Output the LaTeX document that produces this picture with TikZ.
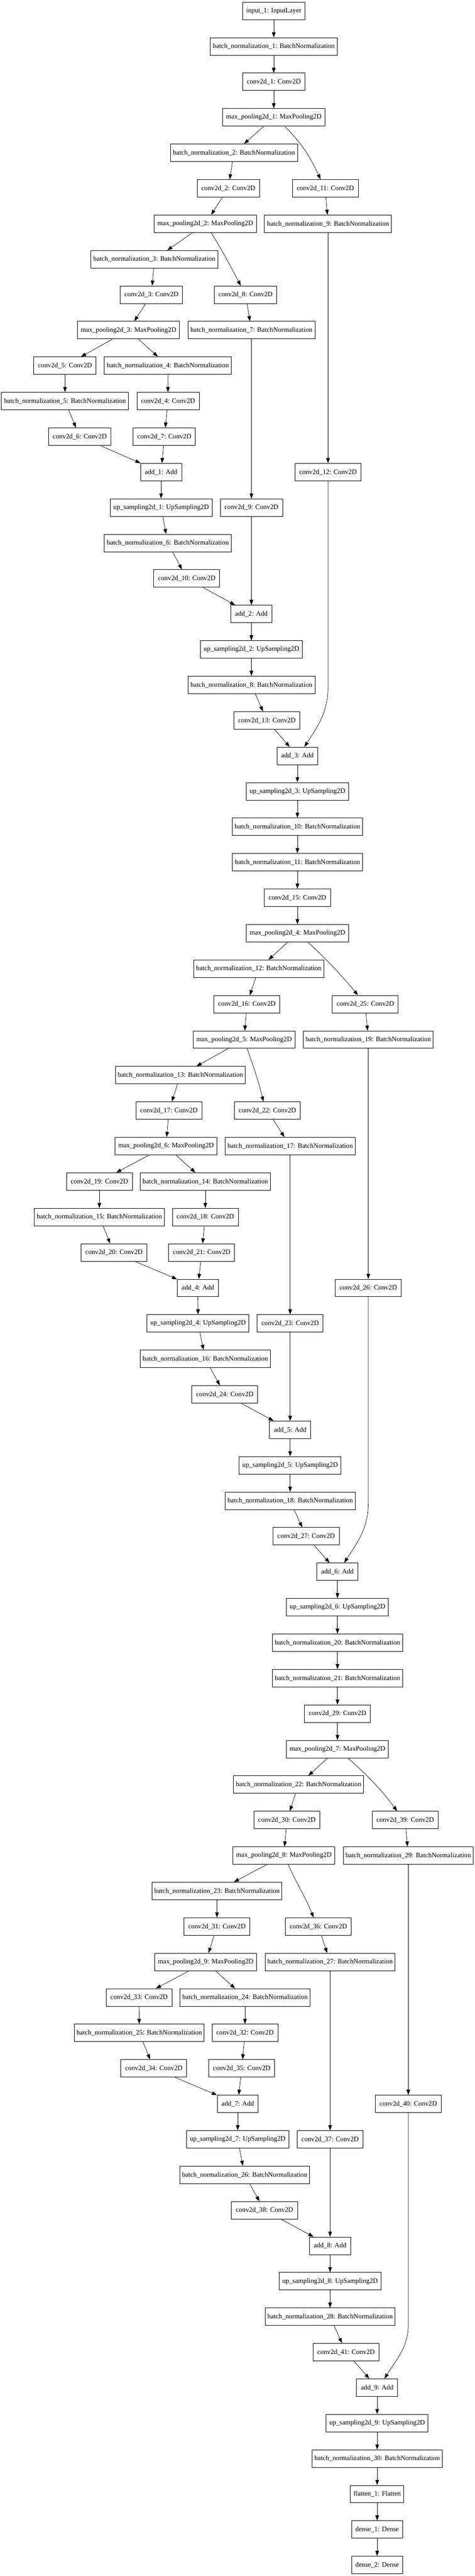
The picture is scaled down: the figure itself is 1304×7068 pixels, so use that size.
\documentclass[tikz,border=0pt]{standalone}
\usepackage{fontspec}
\setmainfont{Liberation Serif}
\usetikzlibrary{arrows.meta,calc}
\newcommand\ry[1]{-30-97.33*#1}
\tikzset{
  box/.style={draw, line width=1.3pt, rectangle, minimum height=48pt, inner xsep=0pt, inner ysep=0pt, font=\fontsize{18.67}{22}\selectfont},
  wIn/.style={box, minimum width=170pt},
  wBN/.style={box, minimum width=349pt},
  wBNN/.style={box, minimum width=357pt},
  wC/.style={box, minimum width=171pt},
  wCC/.style={box, minimum width=181pt},
  wMP/.style={box, minimum width=280pt},
  wUP/.style={box, minimum width=280pt},
  wAdd/.style={box, minimum width=113pt},
  wFl/.style={box, minimum width=147pt},
  wDn/.style={box, minimum width=140pt},
  arr/.style={line width=1pt, -{Triangle[length=14pt,width=10pt]}}
}
\begin{document}
\begin{tikzpicture}[x=1pt,y=1pt]
\fill[white] (0,0) rectangle (1304,-7068);
\useasboundingbox (0,0) rectangle (1304,-7068);
% ---------- section 1 ----------
\node[wIn] (in1) at (752,\ry{0}) {input\_1: InputLayer};
\node[wBN] (bn1) at (752,\ry{1}) {batch\_normalization\_1: BatchNormalization};
\node[wC] (c1) at (752,\ry{2}) {conv2d\_1: Conv2D};
\node[wMP] (mp1) at (752,\ry{3}) {max\_pooling2d\_1: MaxPooling2D};
\node[wBN] (bn2) at (642.5,\ry{4}) {batch\_normalization\_2: BatchNormalization};
\node[wC] (c2) at (627,\ry{5}) {conv2d\_2: Conv2D};
\node[wCC] (c11) at (893.5,\ry{5}) {conv2d\_11: Conv2D};
\node[wMP] (mp2) at (564,\ry{6}) {max\_pooling2d\_2: MaxPooling2D};
\node[wBN] (bn9) at (901,\ry{6}) {batch\_normalization\_9: BatchNormalization};
\node[wBN] (bn3) at (424,\ry{7}) {batch\_normalization\_3: BatchNormalization};
\node[wC] (c3) at (416,\ry{8}) {conv2d\_3: Conv2D};
\node[wC] (c8) at (674.5,\ry{8}) {conv2d\_8: Conv2D};
\node[wMP] (mp3) at (353,\ry{9}) {max\_pooling2d\_3: MaxPooling2D};
\node[wBN] (bn7) at (690.6,\ry{9}) {batch\_normalization\_7: BatchNormalization};
\node[wC] (c5) at (178.5,\ry{10}) {conv2d\_5: Conv2D};
\node[wBN] (bn4) at (461,\ry{10}) {batch\_normalization\_4: BatchNormalization};
\node[wBN] (bn5) at (178.5,\ry{11}) {batch\_normalization\_5: BatchNormalization};
\node[wC] (c4) at (461.5,\ry{11}) {conv2d\_4: Conv2D};
\node[wC] (c6) at (219,\ry{12}) {conv2d\_6: Conv2D};
\node[wC] (c7) at (451.5,\ry{12}) {conv2d\_7: Conv2D};
\node[wAdd] (add1) at (442.5,\ry{13}) {add\_1: Add};
\node[wCC] (c12) at (901,\ry{13}) {conv2d\_12: Conv2D};
\node[wUP] (up1) at (442.5,\ry{14}) {up\_sampling2d\_1: UpSampling2D};
\node[wC] (c9) at (690.6,\ry{14}) {conv2d\_9: Conv2D};
\node[wBN] (bn6) at (461,\ry{15}) {batch\_normalization\_6: BatchNormalization};
\node[wCC] (c10) at (513,\ry{16}) {conv2d\_10: Conv2D};
\node[wAdd] (add2) at (690.6,\ry{17}) {add\_2: Add};
\node[wUP] (up2) at (690.6,\ry{18}) {up\_sampling2d\_2: UpSampling2D};
\node[wBN] (bn8) at (690.6,\ry{19}) {batch\_normalization\_8: BatchNormalization};
\node[wCC] (c13) at (733,\ry{20}) {conv2d\_13: Conv2D};
\node[wAdd] (add3) at (817,\ry{21}) {add\_3: Add};
\node[wUP] (up3) at (817,\ry{22}) {up\_sampling2d\_3: UpSampling2D};
\node[wBNN] (bn10) at (817,\ry{23}) {batch\_normalization\_10: BatchNormalization};
\node[wBNN] (bn11) at (817,\ry{24}) {batch\_normalization\_11: BatchNormalization};
\node[wCC] (c15) at (817,\ry{25}) {conv2d\_15: Conv2D};
\node[wMP] (mp4) at (817,\ry{26}) {max\_pooling2d\_4: MaxPooling2D};
% ---------- section 2 ----------
\node[wBNN] (bn12) at (710.7,\ry{27}) {batch\_normalization\_12: BatchNormalization};
\node[wCC] (c16) at (678,\ry{28}) {conv2d\_16: Conv2D};
\node[wCC] (c25) at (1003.4,\ry{28}) {conv2d\_25: Conv2D};
\node[wMP] (mp5) at (670.6,\ry{29}) {max\_pooling2d\_5: MaxPooling2D};
\node[wBNN] (bn19) at (1011.6,\ry{29}) {batch\_normalization\_19: BatchNormalization};
\node[wBNN] (bn13) at (495.6,\ry{30}) {batch\_normalization\_13: BatchNormalization};
\node[wCC] (c17) at (464,\ry{31}) {conv2d\_17: Conv2D};
\node[wCC] (c22) at (734.7,\ry{31}) {conv2d\_22: Conv2D};
\node[wMP] (mp6) at (456,\ry{32}) {max\_pooling2d\_6: MaxPooling2D};
\node[wBNN] (bn17) at (797,\ry{32}) {batch\_normalization\_17: BatchNormalization};
\node[wCC] (c19) at (273,\ry{33}) {conv2d\_19: Conv2D};
\node[wBNN] (bn14) at (564,\ry{33}) {batch\_normalization\_14: BatchNormalization};
\node[wBNN] (bn15) at (273,\ry{34}) {batch\_normalization\_15: BatchNormalization};
\node[wCC] (c18) at (564,\ry{34}) {conv2d\_18: Conv2D};
\node[wCC] (c20) at (313,\ry{35}) {conv2d\_20: Conv2D};
\node[wCC] (c21) at (554,\ry{35}) {conv2d\_21: Conv2D};
\node[wAdd] (add4) at (543.5,\ry{36}) {add\_4: Add};
\node[wCC] (c26) at (1011.6,\ry{36}) {conv2d\_26: Conv2D};
\node[wUP] (up4) at (544,\ry{37}) {up\_sampling2d\_4: UpSampling2D};
\node[wCC] (c23) at (797,\ry{37}) {conv2d\_23: Conv2D};
\node[wBNN] (bn16) at (564,\ry{38}) {batch\_normalization\_16: BatchNormalization};
\node[wCC] (c24) at (617.5,\ry{39}) {conv2d\_24: Conv2D};
\node[wAdd] (add5) at (797,\ry{40}) {add\_5: Add};
\node[wUP] (up5) at (797,\ry{41}) {up\_sampling2d\_5: UpSampling2D};
\node[wBNN] (bn18) at (797,\ry{42}) {batch\_normalization\_18: BatchNormalization};
\node[wCC] (c27) at (841,\ry{43}) {conv2d\_27: Conv2D};
\node[wAdd] (add6) at (927,\ry{44}) {add\_6: Add};
\node[wUP] (up6) at (927,\ry{45}) {up\_sampling2d\_6: UpSampling2D};
\node[wBNN] (bn20) at (927,\ry{46}) {batch\_normalization\_20: BatchNormalization};
\node[wBNN] (bn21) at (927,\ry{47}) {batch\_normalization\_21: BatchNormalization};
\node[wCC] (c29) at (927,\ry{48}) {conv2d\_29: Conv2D};
\node[wMP] (mp7) at (927,\ry{49}) {max\_pooling2d\_7: MaxPooling2D};
% ---------- section 3 ----------
\node[wBNN] (bn22) at (820,\ry{50}) {batch\_normalization\_22: BatchNormalization};
\node[wCC] (c30) at (788,\ry{51}) {conv2d\_30: Conv2D};
\node[wCC] (c39) at (1113,\ry{51}) {conv2d\_39: Conv2D};
\node[wMP] (mp8) at (779.6,\ry{52}) {max\_pooling2d\_8: MaxPooling2D};
\node[wBNN] (bn29) at (1121.5,\ry{52}) {batch\_normalization\_29: BatchNormalization};
\node[wBNN] (bn23) at (596,\ry{53}) {batch\_normalization\_23: BatchNormalization};
\node[wCC] (c31) at (596,\ry{54}) {conv2d\_31: Conv2D};
\node[wCC] (c36) at (874.5,\ry{54}) {conv2d\_36: Conv2D};
\node[wMP] (mp9) at (565,\ry{55}) {max\_pooling2d\_9: MaxPooling2D};
\node[wBNN] (bn27) at (906.7,\ry{55}) {batch\_normalization\_27: BatchNormalization};
\node[wCC] (c33) at (382,\ry{56}) {conv2d\_33: Conv2D};
\node[wBNN] (bn24) at (673,\ry{56}) {batch\_normalization\_24: BatchNormalization};
\node[wBNN] (bn25) at (382.6,\ry{57}) {batch\_normalization\_25: BatchNormalization};
\node[wCC] (c32) at (673,\ry{57}) {conv2d\_32: Conv2D};
\node[wCC] (c34) at (422.5,\ry{58}) {conv2d\_34: Conv2D};
\node[wCC] (c35) at (664,\ry{58}) {conv2d\_35: Conv2D};
\node[wAdd] (add7) at (653,\ry{59}) {add\_7: Add};
\node[wCC] (c40) at (1121.5,\ry{59}) {conv2d\_40: Conv2D};
\node[wUP] (up7) at (653,\ry{60}) {up\_sampling2d\_7: UpSampling2D};
\node[wCC] (c37) at (906.7,\ry{60}) {conv2d\_37: Conv2D};
\node[wBNN] (bn26) at (672,\ry{61}) {batch\_normalization\_26: BatchNormalization};
\node[wCC] (c38) at (726.5,\ry{62}) {conv2d\_38: Conv2D};
\node[wAdd] (add8) at (906.7,\ry{63}) {add\_8: Add};
\node[wUP] (up8) at (906.7,\ry{64}) {up\_sampling2d\_8: UpSampling2D};
\node[wBNN] (bn28) at (906.7,\ry{65}) {batch\_normalization\_28: BatchNormalization};
\node[wCC] (c41) at (950.5,\ry{66}) {conv2d\_41: Conv2D};
\node[wAdd] (add9) at (1036,\ry{67}) {add\_9: Add};
\node[wUP] (up9) at (1036,\ry{68}) {up\_sampling2d\_9: UpSampling2D};
\node[wBNN] (bn30) at (1036,\ry{69}) {batch\_normalization\_30: BatchNormalization};
\node[wFl] (fl1) at (1036,\ry{70}) {flatten\_1: Flatten};
\node[wDn] (d1) at (1036,\ry{71}) {dense\_1: Dense};
\node[wDn] (d2) at (1036,\ry{72}) {dense\_2: Dense};
% ---------- edges section 1 ----------
\draw[arr] (in1) -- (bn1);
\draw[arr] (bn1) -- (c1);
\draw[arr] (c1) -- (mp1);
\draw[arr] (mp1) -- (bn2);
\draw[arr] ([xshift=30pt]mp1.south) to[out=-45,in=115] ([xshift=-13pt]c11.north);
\draw[arr] (bn2) -- (c2);
\draw[arr] (c2) -- (mp2);
\draw[arr] (c11) -- (bn9);
\draw[arr] (mp2) -- (bn3);
\draw[arr] ([xshift=16pt]mp2.south) to[out=-58,in=118] ([xshift=-13pt]c8.north);
\draw[arr] (bn3) -- (c3);
\draw[arr] (bn9.south) -- (c12.north);
\draw[arr] (c3) -- (mp3);
\draw[arr] (c8) -- (bn7);
\draw[arr] (mp3) -- (c5);
\draw[arr] (mp3) -- (bn4);
\draw[arr] (bn7.south) -- (c9.north);
\draw[arr] (c5) -- (bn5);
\draw[arr] (bn4) -- (c4);
\draw[arr] (bn5) -- (c6);
\draw[arr] (c4) -- (c7);
\draw[arr] (c6) -- (add1);
\draw[arr] (c7) -- (add1);
\draw[arr] (add1) -- (up1);
\draw[arr] (up1) -- (bn6);
\draw[arr] (bn6) -- (c10);
\draw[arr] (c10) -- (add2);
\draw[arr] (c9.south) -- (add2.north);
\draw[arr] (add2) -- (up2);
\draw[arr] (up2) -- (bn8);
\draw[arr] (bn8) -- (c13);
\draw[arr] (c13) -- (add3);
\draw[arr] (c12.south) -- ($(c12.south |- add3.north)+(0,165)$) to[out=-90,in=57] ([xshift=19pt]add3.north);
\draw[arr] (add3) -- (up3);
\draw[arr] (up3) -- (bn10);
\draw[arr] (bn10) -- (bn11);
\draw[arr] (bn11) -- (c15);
\draw[arr] (c15) -- (mp4);
% ---------- edges section 2 ----------
\draw[arr] (mp4) -- (bn12);
\draw[arr] ([xshift=29pt]mp4.south) to[out=-43,in=130] ([xshift=-20pt]c25.north);
\draw[arr] (bn12) -- (c16);
\draw[arr] (c16) -- (mp5);
\draw[arr] (c25) -- (bn19);
\draw[arr] (mp5) -- (bn13);
\draw[arr] ([xshift=8pt]mp5.south) to[out=-70,in=104] ([xshift=-11pt]c22.north);
\draw[arr] (bn13) -- (c17);
\draw[arr] (bn19.south) -- (c26.north);
\draw[arr] (c17) -- (mp6);
\draw[arr] (c22) -- (bn17);
\draw[arr] (mp6) -- (c19);
\draw[arr] (mp6) -- (bn14);
\draw[arr] (bn17.south) -- (c23.north);
\draw[arr] (c19) -- (bn15);
\draw[arr] (bn14) -- (c18);
\draw[arr] (bn15) -- (c20);
\draw[arr] (c18) -- (c21);
\draw[arr] (c20) -- (add4);
\draw[arr] (c21) -- (add4);
\draw[arr] (add4) -- (up4);
\draw[arr] (up4) -- (bn16);
\draw[arr] (bn16) -- (c24);
\draw[arr] (c24) -- (add5);
\draw[arr] (c23.south) -- (add5.north);
\draw[arr] (add5) -- (up5);
\draw[arr] (up5) -- (bn18);
\draw[arr] (bn18) -- (c27);
\draw[arr] (c27) -- (add6);
\draw[arr] (c26.south) -- ($(c26.south |- add6.north)+(0,165)$) to[out=-90,in=57] ([xshift=18.5pt]add6.north);
\draw[arr] (add6) -- (up6);
\draw[arr] (up6) -- (bn20);
\draw[arr] (bn20) -- (bn21);
\draw[arr] (bn21) -- (c29);
\draw[arr] (c29) -- (mp7);
% ---------- edges section 3 ----------
\draw[arr] (mp7) -- (bn22);
\draw[arr] ([xshift=29pt]mp7.south) to[out=-42,in=127] ([xshift=-22pt]c39.north);
\draw[arr] (bn22) -- (c30);
\draw[arr] (c30) -- (mp8);
\draw[arr] (c39) -- (bn29);
\draw[arr] (mp8) -- (bn23);
\draw[arr] ([xshift=12pt]mp8.south) to[out=-66,in=112] ([xshift=-13pt]c36.north);
\draw[arr] (bn23) -- (c31);
\draw[arr] (bn29.south) -- (c40.north);
\draw[arr] (c31) -- (mp9);
\draw[arr] (c36) -- (bn27);
\draw[arr] (mp9) -- (c33);
\draw[arr] (mp9) -- (bn24);
\draw[arr] (bn27.south) -- (c37.north);
\draw[arr] (c33) -- (bn25);
\draw[arr] (bn24) -- (c32);
\draw[arr] (bn25) -- (c34);
\draw[arr] (c32) -- (c35);
\draw[arr] (c34) -- (add7);
\draw[arr] (c35) -- (add7);
\draw[arr] (add7) -- (up7);
\draw[arr] (up7) -- (bn26);
\draw[arr] (bn26) -- (c38);
\draw[arr] (c38) -- (add8);
\draw[arr] (c37.south) -- (add8.north);
\draw[arr] (add8) -- (up8);
\draw[arr] (up8) -- (bn28);
\draw[arr] (bn28) -- (c41);
\draw[arr] (c41) -- (add9);
\draw[arr] (c40.south) -- ($(c40.south |- add9.north)+(0,150)$) to[out=-90,in=58] ([xshift=20pt]add9.north);
\draw[arr] (add9) -- (up9);
\draw[arr] (up9) -- (bn30);
\draw[arr] (bn30) -- (fl1);
\draw[arr] (fl1) -- (d1);
\draw[arr] (d1) -- (d2);
\end{tikzpicture}
\end{document}
